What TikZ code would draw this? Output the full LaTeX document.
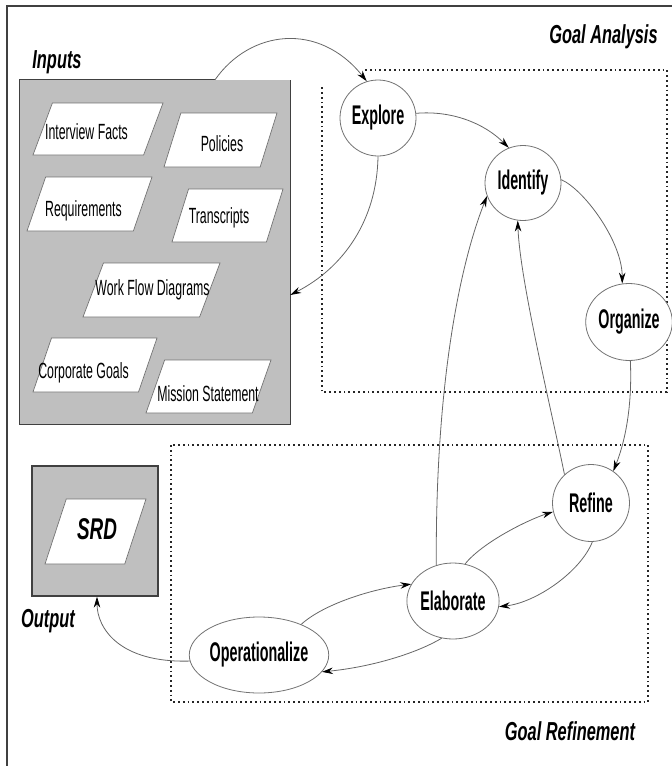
\documentclass[tikz,border=0pt]{standalone}
\usepackage{fontspec}
\setmainfont{Liberation Sans}
\newfontfamily\docfont[FakeStretch=0.56]{Liberation Sans}
\newfontfamily\stepfont[FakeStretch=0.53]{Liberation Sans}
\newfontfamily\titlefont[FakeStretch=0.63]{Liberation Sans}
\usetikzlibrary{arrows.meta,shapes.geometric}

\begin{document}
\begin{tikzpicture}[x=1pt,y=-1pt,
  frame/.style={draw=black!75, line width=1.6pt},
  region/.style={draw=black!85, line width=1.1pt, dash pattern=on 1.8pt off 3pt},
  store/.style={fill=black!25, draw=none, inner sep=0},
  storeline/.style={draw=black!75, line width=1.3pt},
  doc/.style={trapezium, trapezium stretches=true, trapezium left angle=78,
    trapezium right angle=102, fill=white, draw=black!55, line width=0.7pt, inner sep=1pt},
  doctext/.style={anchor=base, inner sep=0, font=\docfont\fontsize{22}{26}\selectfont},
  stepnode/.style={ellipse, draw=black!55, line width=0.8pt, fill=white, inner sep=0,
    minimum width=76pt, minimum height=76pt, font=\stepfont\bfseries\fontsize{27}{30}\selectfont},
  title/.style={anchor=base, inner sep=0, font=\titlefont\bfseries\itshape\fontsize{26}{30}\selectfont},
  conn/.style={draw=black!60, line width=0.8pt, -{Stealth[length=11pt,width=6.5pt,color=black]}}
]
\useasboundingbox (0,0) rectangle (672,766);

% outer frame
\draw[frame] (7,766) -- (7,6) -- (672,6);

% process regions
\draw[region] (365,70) -| (667,392) -| (322,85);
\draw[region] (171,445) rectangle (648,702);

% input store
\node[store, minimum width=270pt, minimum height=344pt] (inputs) at (155,252) {};
\draw[storeline] ([xshift=60pt]inputs.north) -| (inputs.south west) -| (inputs.north east);

\node[doc, minimum width=130pt, minimum height=52pt] (ifacts) at (98,129) {};
\node[doctext] at (86.5,139) {Interview Facts};
\node[doc, minimum width=113pt, minimum height=54pt] (policies) at (220.5,140) {};
\node[doctext] at (222,151) {Policies};
\node[doc, minimum width=125pt, minimum height=54pt] (reqs) at (89.5,204) {};
\node[doctext] at (83.5,216) {Requirements};
\node[doc, minimum width=111pt, minimum height=53pt] (trans) at (227.5,215.5) {};
\node[doctext] at (219,223) {Transcripts};
\node[doc, minimum width=137pt, minimum height=54pt] (wfd) at (151.5,290) {};
\node[doctext] at (152.5,295) {Work Flow Diagrams};
\node[doc, minimum width=124pt, minimum height=54pt] (corp) at (95,365) {};
\node[doctext] at (83.5,378) {Corporate Goals};
\node[doc, minimum width=125pt, minimum height=53pt] (mission) at (208.5,386.5) {};
\node[doctext] at (208,401) {Mission Statement};

% output store
\node[store, draw=black!75, line width=1.3pt, minimum width=126pt, minimum height=130pt] (output) at (95,531) {};
\node[doc, trapezium left angle=70, trapezium right angle=110, minimum width=101pt, minimum height=65pt] (srd) at (95.5,531.5) {};
\node[anchor=base, inner sep=0, font=\titlefont\bfseries\itshape\fontsize{30}{34}\selectfont] at (97,539) {SRD};

% titles
\node[title] at (57,68) {Inputs};
\node[title] at (603.5,43) {Goal Analysis};
\node[title] at (48,627) {Output};
\node[title] at (570,740) {Goal Refinement};

% process steps
\node[stepnode] (explore) at (378,118) {Explore};
\node[stepnode, minimum height=75pt] (identify) at (523,183) {Identify};
\node[stepnode, minimum width=75pt, minimum height=77pt] (organize) at (629,322) {Organize};
\node[stepnode, minimum width=77pt, minimum height=77pt] (refine) at (591,503) {Refine};
\node[stepnode, minimum width=75pt] (elaborate) at (453,601) {Elaborate};
\node[stepnode, minimum width=127pt] (oper) at (259,655) {Operationalize};

% flows
\draw[conn] ([xshift=60pt]inputs.north) .. controls +(35,-50) and +(-48,-60) .. (explore.107);
\draw[conn] (explore.7) .. controls +(35,-3) and +(-25,-25) .. (identify.112);
\draw[conn] (explore.-90) .. controls +(-1,64) and +(53,-27) .. ([yshift=-43pt]inputs.east);
\draw[conn] (identify.5) .. controls +(23,10) and +(0,-42) .. (organize.100);
\draw[conn] (organize.-88) .. controls +(2,45) and +(12,-30) .. (refine.55);
\draw[conn] (refine.133) .. controls +(-12,-60) and +(2,60) .. (identify.262);
\draw[conn] (elaborate.115) .. controls +(-1,-182) and +(-27,68) .. (identify.200);
\draw[conn] (elaborate.72) .. controls +(18,-22) and +(-25,8) .. (refine.193);
\draw[conn] (refine.-88) .. controls +(-12,30) and +(37,-4) .. (elaborate.-7);
\draw[conn] (oper.36) .. controls +(22,-20) and +(-40,5) .. (elaborate.158);
\draw[conn] (elaborate.253) .. controls +(-25,15) and +(50,-5) .. (oper.-15);
\draw[conn] (oper.185) .. controls +(-70,2) and +(0,32) .. ([xshift=2pt]output.south);
\end{tikzpicture}
\end{document}
